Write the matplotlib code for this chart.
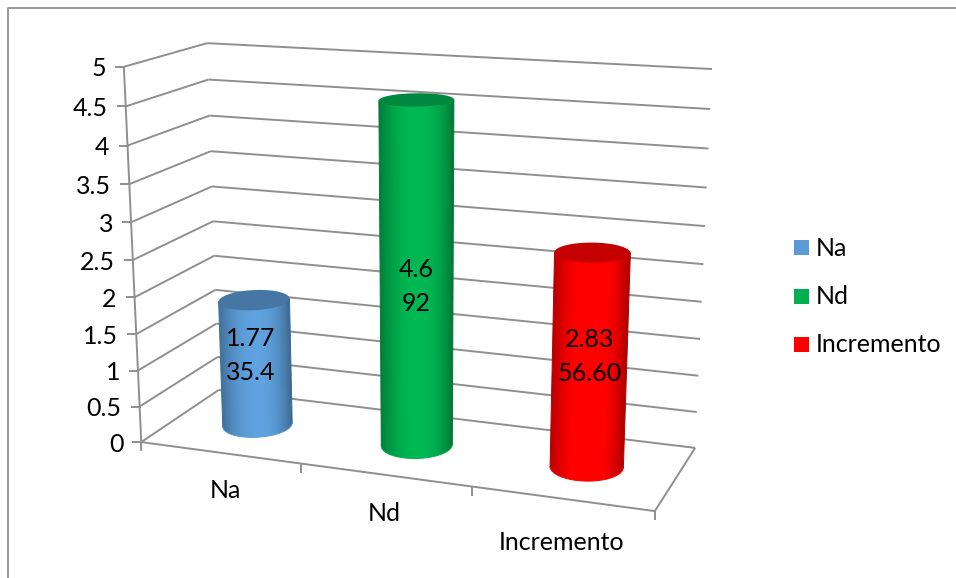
import numpy as np
import matplotlib
matplotlib.use('Agg')
import matplotlib.pyplot as plt
from matplotlib.colors import to_rgb
from matplotlib.patches import Polygon, Rectangle

# Datos del grafico
categorias = ['Na', 'Nd', 'Incremento']
valores = [1.77, 4.6, 2.83]
etiquetas_valor = ['1.77', '4.6', '2.83']
etiquetas_pct = ['35.4', '92', '56.60']
colores = ['#5b9bd5', '#00b050', '#ff0000']
marcas_y = [0, 0.5, 1, 1.5, 2, 2.5, 3, 3.5, 4, 4.5, 5]
etiquetas_y = ['0', '0.5', '1', '1.5', '2', '2.5', '3', '3.5', '4', '4.5', '5']

GRIS = '#8f8f8f'
FUENTE = 'Lato'
TAM = 18

# Ajustes en pixeles de las etiquetas de datos y de categoria
ajuste_datos = [(-5, -7), (0, 9), (0, -5)]
ajuste_cat = [(6, 38), (-1, 39), (0, 44)]

# Esquinas de la caja 3D: (categoria, valor, fondo) -> pixel
esquinas = [
    ((0, 5, 0), (124, 67)), ((0, 0, 0), (141, 442)),
    ((0, 5, 1), (207, 43)), ((0, 0, 1), (219, 390)),
    ((3, 5, 1), (712, 69)), ((3, 0, 1), (695, 448)),
    ((3, 0, 0), (655, 511)),
]

# Matriz de proyeccion en perspectiva ajustada a las esquinas
filas = []
for (X, Y, Z), (px, py) in esquinas:
    filas.append([X, Y, Z, 1, 0, 0, 0, 0, -px * X, -px * Y, -px * Z, -px])
    filas.append([0, 0, 0, 0, X, Y, Z, 1, -py * X, -py * Y, -py * Z, -py])
P = np.linalg.svd(np.array(filas, dtype=float))[2][-1].reshape(3, 4)


def proy(u, v, w):
    u, v, w = np.broadcast_arrays(u, v, w)
    h = P @ np.vstack([u.ravel(), v.ravel(), w.ravel(), np.ones(u.size)])
    return h[0] / h[2], h[1] / h[2]


def linea(a, b):
    x, y = proy(*np.array([a, b], dtype=float).T)
    ax.plot(x, y, color=GRIS, lw=1.4, solid_capstyle='butt', zorder=1)


def sombra(t):
    # brillo de la cara lateral, t va de -1 (izquierda) a 1 (derecha)
    return 1.05 - np.where(t >= 0.05, 0.42, 0.30) * np.abs(t - 0.05) ** 2.2


def cilindro(cx, altura, color, ru=0.2, rw=0.22):
    base = np.array(to_rgb(color))

    # arco delantero entre los puntos extremos de la base
    ang = np.linspace(-0.7, np.pi + 0.7, 161)
    us = cx + ru * np.cos(ang)
    ws = 0.5 - rw * np.sin(ang)
    xb, yb = proy(us, 0, ws)
    xt, yt = proy(us, altura, ws)
    d_b, i_b = np.argmax(xb), np.argmin(xb)
    d_t, i_t = np.argmax(xt), np.argmin(xt)
    arco_x, arco_y = xb[d_b:i_b + 1], yb[d_b:i_b + 1]

    # degradado calculado por pixel entre las dos aristas
    x0, x1 = int(min(xb.min(), xt.min())) - 1, int(max(xb.max(), xt.max())) + 2
    y0, y1 = int(min(yb.min(), yt.min())) - 1, int(max(yb.max(), yt.max())) + 2
    gx, gy = np.meshgrid(np.arange(x0, x1) + 0.5, np.arange(y0, y1) + 0.5)
    der = xb[d_b] + (xt[d_t] - xb[d_b]) * (yb[d_b] - gy) / (yb[d_b] - yt[d_t])
    izq = xb[i_b] + (xt[i_t] - xb[i_b]) * (yb[i_b] - gy) / (yb[i_b] - yt[i_t])
    t = np.clip(2 * (gx - izq) / (der - izq) - 1, -1, 1)
    img = np.clip(base[None, None, :] * sombra(t)[:, :, None], 0, 1)
    im = ax.imshow(img, extent=(x0, x1, y1, y0), origin='upper', aspect='auto', zorder=3)
    contorno = np.column_stack([np.r_[arco_x, xt[i_t], xt[d_t]], np.r_[arco_y, yt[i_t], yt[d_t]]])
    im.set_clip_path(Polygon(contorno, transform=ax.transData))

    # contorno para suavizar los bordes
    ax.plot(arco_x, arco_y, color=base, lw=0.7, zorder=3)
    ax.plot([xb[d_b], xt[d_t]], [yb[d_b], yt[d_t]], color=base * sombra(np.array(1.0)), lw=0.7, zorder=3)
    ax.plot([xb[i_b], xt[i_t]], [yb[i_b], yt[i_t]], color=base * sombra(np.array(-1.0)), lw=0.7, zorder=3)

    # tapa superior mas oscura
    th = np.linspace(0, 2 * np.pi, 120)
    x, y = proy(cx + ru * np.cos(th), altura, 0.5 + rw * np.sin(th))
    ax.fill(x, y, color=base * 0.77, lw=0, zorder=4)


fig = plt.figure(figsize=(9.56, 5.78), dpi=100)
ax = fig.add_axes([0, 0, 1, 1])
ax.axis('off')

# Marco exterior
ax.plot([8, 8, 956], [578, 8, 8], color='#999999', lw=1.4, zorder=0)

# Rejilla de las paredes
for m, txt in zip(marcas_y, etiquetas_y):
    linea((0, m, 0), (0, m, 1))
    linea((0, m, 1), (3, m, 1))
    x, y = proy(0, m, 0)
    ax.plot([x[0] - 8, x[0]], [y[0], y[0]], color=GRIS, lw=1.4, zorder=1)
    ax.text(x[0] - 18, y[0] + 2, txt, ha='right', va='center', family=FUENTE, fontsize=TAM, color='black')
linea((0, 0, 0), (0, 5, 0))

# Suelo y marcas del eje de categorias
linea((0, 0, 0), (3, 0, 0))
linea((3, 0, 0), (3, 0, 1))
for i in range(4):
    x, y = proy(i, 0, 0)
    ax.plot([x[0], x[0]], [y[0], y[0] + 8], color=GRIS, lw=1.4, zorder=1)

# Cilindros
for i, (val, col) in enumerate(zip(valores, colores)):
    cilindro(i + 0.5, val, col)

# Etiquetas de datos
for i, (val, t1, t2) in enumerate(zip(valores, etiquetas_valor, etiquetas_pct)):
    x, y = proy(i + 0.5, val / 2, 0.5)
    dx, dy = ajuste_datos[i]
    ax.text(x[0] + dx, y[0] + dy - 17, t1, ha='center', va='center', family=FUENTE, fontsize=TAM, color='black', zorder=6)
    ax.text(x[0] + dx, y[0] + dy + 17, t2, ha='center', va='center', family=FUENTE, fontsize=TAM, color='black', zorder=6)

# Nombres de categoria
for i, cat in enumerate(categorias):
    x, y = proy(i + 0.5, 0, 0)
    dx, dy = ajuste_cat[i]
    ax.text(x[0] + dx, y[0] + dy, cat, ha='center', va='center', family=FUENTE, fontsize=TAM, color='black')

# Leyenda
for i, (cat, col) in enumerate(zip(categorias, colores)):
    yl = 240 + 48.5 * i
    ax.add_patch(Rectangle((794, yl), 15, 15, facecolor=col, edgecolor='none'))
    ax.text(816, yl + 8, cat, ha='left', va='center', family=FUENTE, fontsize=TAM, color='black')

ax.set_xlim(0, 956)
ax.set_ylim(578, 0)

fig.savefig('out.png', dpi=100)
plt.close()
